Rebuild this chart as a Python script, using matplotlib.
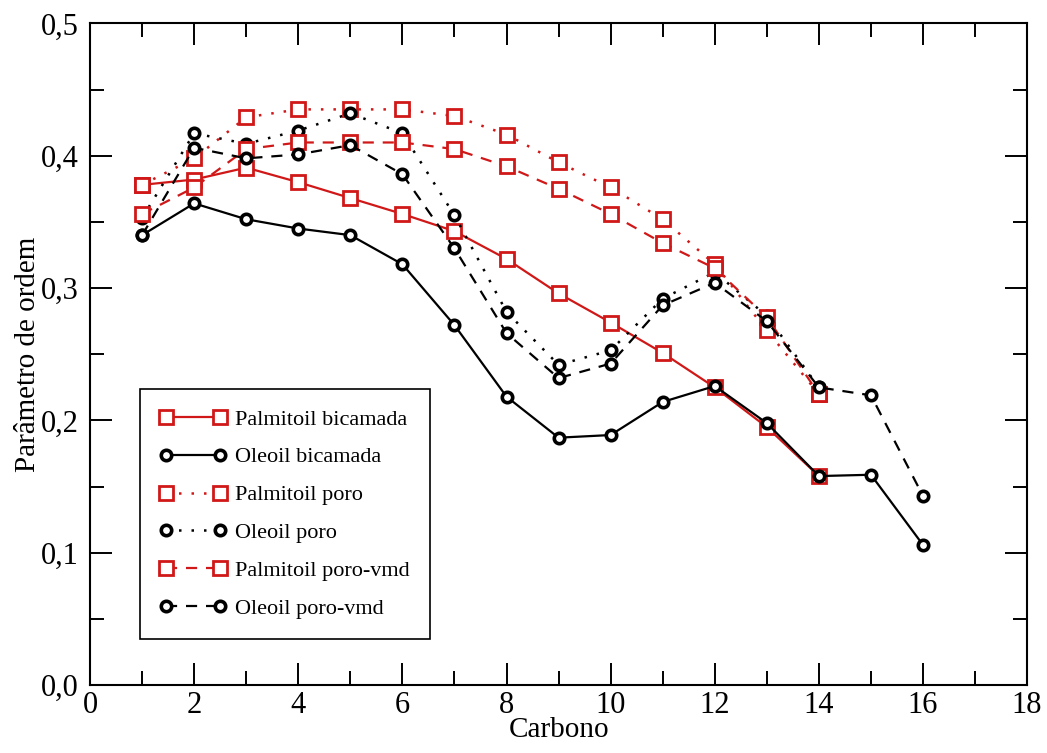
import numpy as np
import matplotlib.pyplot as plt
from matplotlib.ticker import MultipleLocator, FuncFormatter

# Carbon positions
carbon_16 = np.arange(1, 17)
carbon_14 = np.arange(1, 15)

# Order parameter values
palm_bicamada = [0.378, 0.382, 0.391, 0.380, 0.368, 0.356, 0.343, 0.322,
                 0.296, 0.274, 0.251, 0.225, 0.195, 0.158]
oleo_bicamada = [0.340, 0.364, 0.352, 0.345, 0.340, 0.318, 0.272, 0.218,
                 0.187, 0.189, 0.214, 0.226, 0.198, 0.158, 0.159, 0.106]
palm_poro = [0.378, 0.398, 0.429, 0.435, 0.435, 0.435, 0.430, 0.416,
             0.395, 0.376, 0.352, 0.318, 0.268, 0.220]
oleo_poro = [0.353, 0.417, 0.409, 0.419, 0.432, 0.417, 0.355, 0.282,
             0.242, 0.253, 0.292, 0.312, 0.279, 0.225]
palm_poro_vmd = [0.356, 0.376, 0.405, 0.410, 0.410, 0.410, 0.405, 0.392,
                 0.375, 0.356, 0.334, 0.315, 0.278, 0.220]
oleo_poro_vmd = [0.340, 0.406, 0.398, 0.401, 0.408, 0.386, 0.330, 0.266,
                 0.232, 0.243, 0.287, 0.304, 0.275, 0.225, 0.219, 0.143]

red = '#d01818'
dotted = (0, (1, 4))
dashed = (0, (5, 4))

plt.rcParams['font.family'] = 'Liberation Serif'

fig = plt.figure(figsize=(10.47, 7.53), dpi=100)
ax = fig.add_axes([0.086, 0.090, 0.895, 0.879])

sq = dict(marker='s', markersize=10, markerfacecolor='white', markeredgewidth=2)
ci = dict(marker='o', markersize=7.5, markerfacecolor='white', markeredgewidth=2.6)

ax.plot(carbon_14, palm_bicamada, color=red, lw=1.6, label='Palmitoil bicamada', **sq)
ax.plot(carbon_16, oleo_bicamada, color='black', lw=1.6, label='Oleoil bicamada', **ci)
ax.plot(carbon_14, palm_poro, color=red, lw=1.8, ls=dotted, label='Palmitoil poro', **sq)
ax.plot(carbon_14, oleo_poro, color='black', lw=1.8, ls=dotted, label='Oleoil poro', **ci)
ax.plot(carbon_14, palm_poro_vmd, color=red, lw=1.6, ls=dashed, label='Palmitoil poro-vmd', **sq)
ax.plot(carbon_16, oleo_poro_vmd, color='black', lw=1.6, ls=dashed, label='Oleoil poro-vmd', **ci)

ax.set_xlim(0, 18)
ax.set_ylim(0, 0.5)
ax.xaxis.set_major_locator(MultipleLocator(2))
ax.xaxis.set_minor_locator(MultipleLocator(1))
ax.yaxis.set_major_locator(MultipleLocator(0.1))
ax.yaxis.set_minor_locator(MultipleLocator(0.05))
ax.yaxis.set_major_formatter(FuncFormatter(lambda v, p: f'{v:.1f}'.replace('.', ',')))

ax.tick_params(which='both', direction='in', top=True, right=True, width=1.4, labelsize=22)
ax.tick_params(which='major', length=16)
ax.tick_params(which='minor', length=10)
ax.tick_params(axis='x', which='major', pad=4)
ax.tick_params(axis='y', which='major', pad=8)
for s in ax.spines.values():
    s.set_linewidth(1.5)

ax.set_xlabel('Carbono', fontsize=21, labelpad=-2)
ax.set_ylabel('Parâmetro de ordem', fontsize=21, labelpad=0)

leg = ax.legend(loc='lower left', bbox_to_anchor=(0.041, 0.053), fontsize=16,
                numpoints=2, handlelength=3.0, labelspacing=0.78, borderpad=0.9,
                handletextpad=0.4, fancybox=False, framealpha=1, edgecolor='black')
leg.get_frame().set_linewidth(1.2)

plt.savefig('out.png', dpi=100)
